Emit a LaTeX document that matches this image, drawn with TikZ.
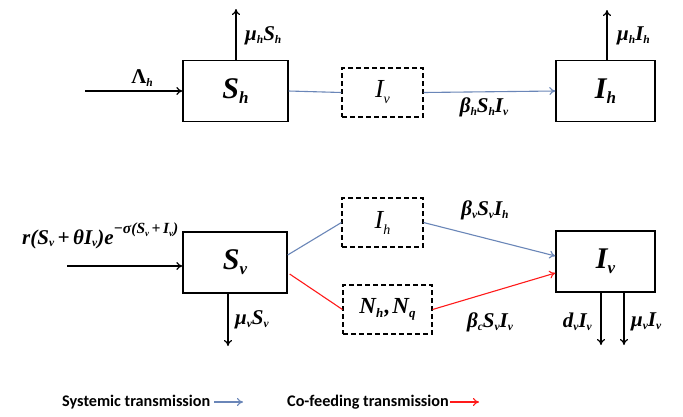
\documentclass[tikz,border=0pt]{standalone}
\usepackage{fontspec}
\setmainfont{Liberation Serif}
\newfontfamily\legfont{Carlito}
\usetikzlibrary{arrows.meta}
\definecolor{sysblue}{HTML}{6A86B8}
\definecolor{cfred}{HTML}{FF1A1A}
\newcommand{\lo}[1]{\raisebox{-0.3ex}{\fontsize{11.5}{11.5}\selectfont #1}}
\newcommand{\slo}[1]{\raisebox{-0.3ex}{\fontsize{9}{9}\selectfont #1}}
\newcommand{\blo}[1]{\raisebox{-0.35ex}{\fontsize{17}{17}\selectfont #1}}
\newcommand{\dlo}[1]{\raisebox{-0.5ex}{\fontsize{14}{14}\selectfont #1}}
\newcommand{\nlo}[1]{\raisebox{-0.4ex}{\fontsize{13}{13}\selectfont #1}}
\tikzset{
  comp/.style={draw, line width=1.3pt, minimum width=#1, minimum height=61pt, inner sep=0pt,
    font=\fontsize{30}{30}\selectfont\bfseries\itshape},
  dbox/.style={draw, dash pattern=on 5pt off 3pt, line width=1.1pt, minimum height=49pt, minimum width=#1, inner sep=0pt,
    font=\fontsize{26}{26}\selectfont\itshape},
  lab/.style={font=\fontsize{21}{21}\selectfont\bfseries\itshape, inner sep=0pt},
  flow/.style={line width=1.2pt, -{To[length=6pt,width=8pt]}},
  sys/.style={sysblue, line width=1.1pt},
  cf/.style={cfred, line width=1.1pt},
  tip/.style={-{To[length=6pt,width=8pt]}},
  leg/.style={font=\legfont\fontsize{16.2}{16.2}\selectfont\bfseries, inner sep=0pt}
}
\begin{document}
\begin{tikzpicture}[x=1pt,y=-1pt]
\useasboundingbox[fill=white] (0,0) rectangle (683,416);
% boxes
\node[comp=105pt] (Sh) at (235.5,91) {S\blo{h}};
\node[comp=99pt] (Ih) at (605.5,91) {I\blo{h}};
\node[dbox=81pt] (Iv) at (382.5,92.5) {I\dlo{v}};
\node[comp=104pt] (Sv) at (235,262.5) {S\blo{v}};
\node[dbox=81pt] (Ihd) at (382.5,222.5) {I\dlo{h}};
\node[dbox=89pt, font=\fontsize{23}{23}\selectfont\bfseries\itshape] (Nq) at (387.5,309.5) {N\nlo{h}\kern1.5pt,\kern2pt N\nlo{q}};
\node[comp=99pt] (Ivb) at (605.5,261.5) {I\blo{v}};
% free ends
\coordinate (Lin) at (85,91);
\coordinate (Shup) at (236,9);
\coordinate (Ihup) at (607,10);
\coordinate (Rin) at (67,266);
\coordinate (Svdn) at (228,346);
\coordinate (Ivd1) at (601,345);
\coordinate (Ivd2) at (624,345);
% black flows
\draw[flow] (Lin) -- (Sh.west);
\draw[flow] (Sh.north -| Shup) -- (Shup);
\draw[flow] (Ih.north -| Ihup) -- (Ihup);
\draw[flow] (Rin) -- (Rin -| Sv.west);
\draw[flow] (Sv.south -| Svdn) -- (Svdn);
\draw[flow] (Ivb.south -| Ivd1) -- (Ivd1);
\draw[flow] (Ivb.south -| Ivd2) -- (Ivd2);
% systemic
\draw[sys] (Sh.east) -- (Iv.west);
\draw[sys,tip] (Iv.east) -- (Ih.west);
\draw[sys] ([yshift=7.5pt]Sv.east) -- (Ihd.west);
\draw[sys,tip] (Ihd.east) -- ([yshift=5.5pt]Ivb.west);
% co-feeding
\draw[cf] ([xshift=2pt,yshift=-11.5pt]Sv.east) -- (Nq.west);
\draw[cf,tip] (Nq.east) -- ([yshift=-11.5pt]Ivb.west);
% labels
\node[lab] (l1) at (142,78) {\upshape Λ\lo{\itshape h}};
\node[lab,anchor=west] (l2) at (245,36) {μ\lo{h}S\lo{h}};
\node[lab] (l3) at (484,107) {β\lo{h}S\lo{h}I\lo{v}};
\node[lab,anchor=west] (l4) at (617,36) {μ\lo{h}I\lo{h}};
\node[lab,anchor=base west] (l5) at (22,244) {r(S\lo{v}\,+\,θI\lo{v})e\raisebox{1.05ex}{\fontsize{15.5}{15.5}\selectfont −σ(S\slo{v}\,+\,I\slo{v})}};
\node[lab,anchor=west] (l6) at (235,320) {μ\lo{v}S\lo{v}};
\node[lab] (l7) at (485,210) {β\lo{v}S\lo{v}I\lo{h}};
\node[lab] (l8) at (490,322) {β\lo{c}S\lo{v}I\lo{v}};
\node[lab,anchor=east] (l9) at (592,322) {d\lo{v}I\lo{v}};
\node[lab,anchor=west] (l10) at (631,322) {μ\lo{v}I\lo{v}};
% legend
\node[leg,anchor=west] (g1) at (62,402) {Systemic transmission};
\coordinate (g1a) at (214,402);
\coordinate (g1b) at (243,402);
\draw[sys,tip] (g1a) -- (g1b);
\node[leg,anchor=west] (g2) at (287,402) {Co-feeding transmission};
\coordinate (g2a) at (450,402);
\coordinate (g2b) at (479,402);
\draw[cf,tip] (g2a) -- (g2b);
\end{tikzpicture}
\end{document}
